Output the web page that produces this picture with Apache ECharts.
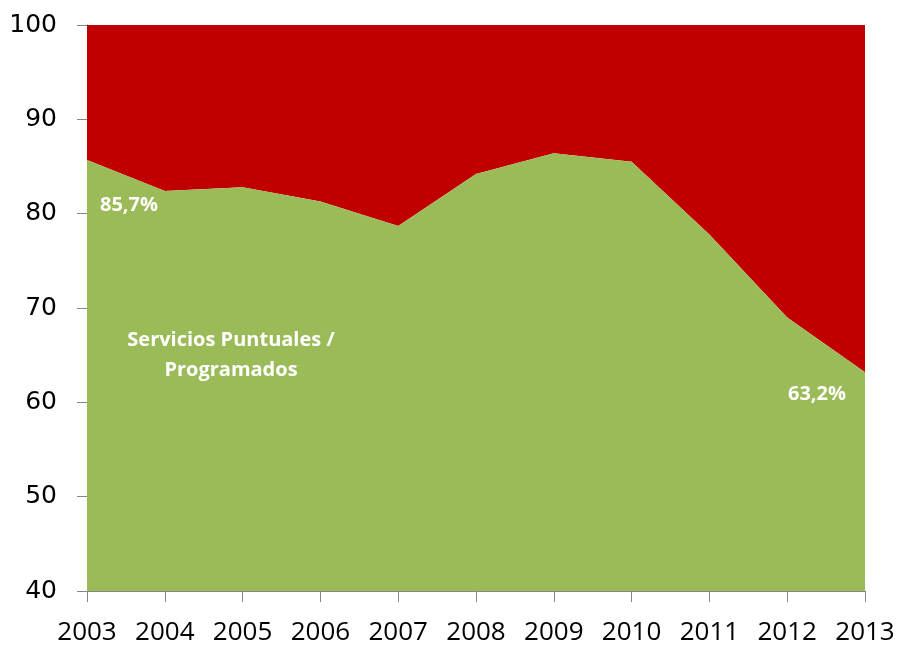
<!DOCTYPE html>
<html>
<head>
<meta charset="utf-8">
<script src="https://cdn.jsdelivr.net/npm/echarts@6/dist/echarts.min.js"></script>
<style>
  html, body { margin: 0; padding: 0; background: #fff; }
  #chart { width: 900px; height: 646px; }
</style>
</head>
<body>
<div id="chart"></div>
<script>
// Years on the horizontal axis
const years = ['2003', '2004', '2005', '2006', '2007', '2008', '2009', '2010', '2011', '2012', '2013'];
// Share (%) of "Servicios Puntuales / Programados"
const puntuales = [85.7, 82.4, 82.8, 81.3, 78.7, 84.2, 86.4, 85.5, 77.8, 69.0, 63.2];
// Remaining share up to 100 %
const resto = puntuales.map(v => +(100 - v).toFixed(1));
// Vertical axis range
const yMin = 40, yMax = 100, yStep = 10;

const chart = echarts.init(document.getElementById('chart'));

const GREEN = '#9BBB59';
const RED = '#C00000';

const valueLabel = (offset) => ({
  show: true,
  position: 'top',
  distance: 0,
  offset: offset,
  color: '#fff',
  fontFamily: 'Open Sans',
  fontWeight: 'bold',
  fontSize: 20,
  formatter: p => Number(p.value).toFixed(1).replace('.', ',') + '%'
});

const greenData = puntuales.map((v, i) => {
  if (i === 0) return { value: v, label: valueLabel([42, 56]) };
  if (i === puntuales.length - 1) return { value: v, label: valueLabel([-48, 33]) };
  return v;
});

chart.setOption({
  animation: false,
  grid: { left: 87, right: 35, top: 25, bottom: 54 },
  xAxis: {
    type: 'category',
    data: years,
    boundaryGap: false,
    axisLine: { lineStyle: { color: '#888', width: 1 } },
    axisTick: { show: true, interval: 0, length: 11, lineStyle: { color: '#888' } },
    axisLabel: { color: '#000', fontFamily: 'Open Sans', fontSize: 26, margin: 29, interval: 0 },
    splitLine: { show: false }
  },
  yAxis: {
    type: 'value',
    min: yMin, max: yMax, interval: yStep,
    axisLine: { show: true, lineStyle: { color: '#888', width: 1 } },
    axisTick: { show: true, inside: false, length: 10, lineStyle: { color: '#888' } },
    axisLabel: { color: '#000', fontFamily: 'DejaVu Sans', fontSize: 25, margin: 30 },
    splitLine: { show: false }
  },
  series: [
    {
      name: 'Servicios Puntuales / Programados',
      type: 'line',
      stack: 'total',
      data: greenData,
      symbol: 'circle',
      symbolSize: 1,
      showSymbol: true,
      showAllSymbol: true,
      lineStyle: { width: 0 },
      itemStyle: { color: GREEN },
      areaStyle: { color: GREEN, opacity: 1, origin: 'start' },
      z: 3
    },
    {
      name: 'Resto',
      type: 'line',
      stack: 'total',
      data: resto,
      symbol: 'none',
      lineStyle: { width: 0 },
      areaStyle: { color: RED, opacity: 1 },
      z: 2
    }
  ],
  graphic: [
    {
      type: 'text',
      x: 231, y: 325,
      style: {
        text: 'Servicios Puntuales /\nProgramados',
        fill: '#fff',
        font: 'bold 20px "Open Sans"',
        align: 'center',
        verticalAlign: 'top',
        lineHeight: 30
      },
      z: 10
    }
  ]
});
</script>
</body>
</html>
